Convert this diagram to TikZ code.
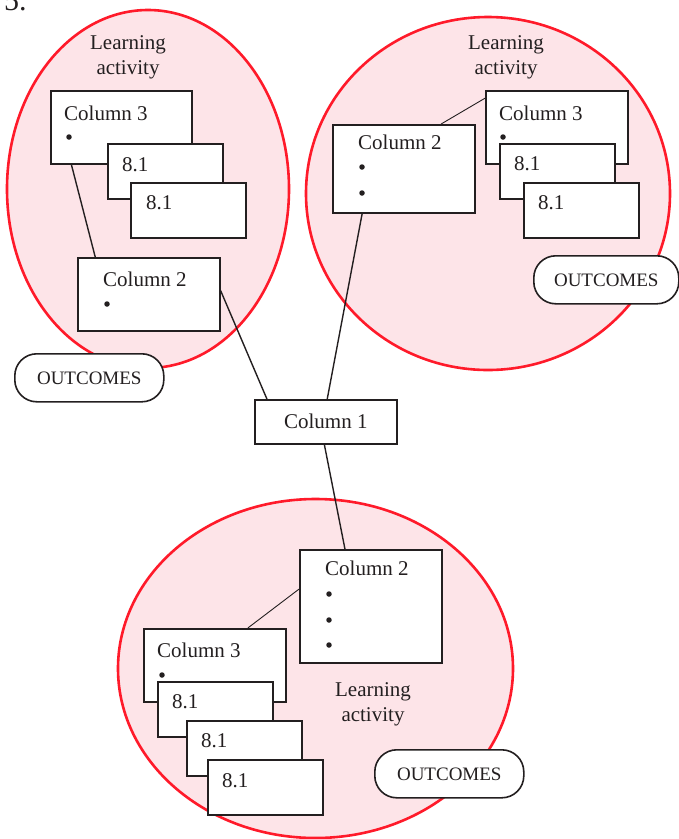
\documentclass[tikz,border=0pt]{standalone}
\usepackage{fontspec}
\setmainfont{Liberation Serif}
\usetikzlibrary{calc}
\definecolor{pinkfill}{HTML}{FDE4E8}
\definecolor{ringred}{HTML}{FF1A2A}
\definecolor{ink}{HTML}{231F20}
\begin{document}
\begin{tikzpicture}[x=1pt,y=-1pt,
  ring/.style={draw=ringred, line width=2.6pt, fill=pinkfill},
  cbox/.style={draw=ink, line width=1.6pt, fill=white, rectangle, anchor=north west, inner sep=0pt, minimum width=142pt, minimum height=73pt, font=\fontsize{21}{25}\selectfont, text=ink},
  nbox/.style={cbox, minimum width=115pt, minimum height=55pt},
  obox/.style={draw=ink, line width=1.6pt, fill=white, rounded corners=22pt, anchor=north west, minimum width=149pt, minimum height=48pt, inner sep=0pt, font=\fontsize{19}{22}\selectfont, text=ink},
  lbl/.style={anchor=base west, inner sep=0pt, font=\fontsize{21}{25}\selectfont, text=ink},
  ltxt/.style={anchor=base, inner sep=0pt, font=\fontsize{21}{25}\selectfont, text=ink},
  dotb/.style={fill=ink, circle, inner sep=0pt, minimum size=5.5pt},
  conn/.style={draw=ink, line width=1.4pt},
  thinconn/.style={draw=ink, line width=0.9pt}]
\useasboundingbox (0,0) rectangle (679,839);
% heading
\node[anchor=base west, inner sep=0pt, font=\fontsize{30}{32}\selectfont, text=ink] (num) at (4,10) {5.};
% ellipses
\draw[ring] (148,189) ellipse [x radius=141pt, y radius=179pt];
\draw[ring] (488,193.5) ellipse [x radius=182pt, y radius=176.5pt];
\draw[ring] (315.5,668.5) ellipse [x radius=197.5pt, y radius=169.5pt];
% ellipse labels
\node[ltxt] (la1) at (128,49) {Learning};
\node[ltxt] (la2) at (128,74) {activity};
\node[ltxt] (lb1) at (506,49) {Learning};
\node[ltxt] (lb2) at (506,74) {activity};
\node[ltxt] (lc1) at (373,696) {Learning};
\node[ltxt] (lc2) at (373,721) {activity};
% ---------- left cluster
\node[cbox, minimum width=141pt] (c3L) at (50,90) {};
\node[lbl] (c3Lt) at ($(c3L.north west)+(14,30)$) {Column 3};
\node[dotb] (c3Ld) at ($(c3L.north west)+(19,47)$) {};
\node[nbox] (n1L) at (107,143) {};
\node[lbl] (n1Lt) at ($(n1L.north west)+(15,28)$) {8.1};
\node[nbox] (n2L) at (130,182) {};
\node[lbl] (n2Lt) at ($(n2L.north west)+(16,27)$) {8.1};
\node[cbox] (c2L) at (77,257) {};
\node[lbl] (c2Lt) at ($(c2L.north west)+(26,29)$) {Column 2};
\node[dotb] (c2Ld) at ($(c2L.north west)+(30,47)$) {};
\node[obox] (oL) at (14,353) {OUTCOMES};
% ---------- right cluster
\node[cbox] (c3R) at (485,90) {};
\node[lbl] (c3Rt) at ($(c3R.north west)+(14,30)$) {Column 3};
\node[dotb] (c3Rd) at ($(c3R.north west)+(18,47)$) {};
\node[nbox] (n1R) at (499,143) {};
\node[lbl] (n1Rt) at ($(n1R.north west)+(15,27)$) {8.1};
\node[nbox] (n2R) at (523,182) {};
\node[lbl] (n2Rt) at ($(n2R.north west)+(15,27)$) {8.1};
\node[cbox, minimum height=88pt] (c2R) at (332,124) {};
\node[lbl] (c2Rt) at ($(c2R.north west)+(26,25)$) {Column 2};
\node[dotb] (c2Rd1) at ($(c2R.north west)+(30,43)$) {};
\node[dotb] (c2Rd2) at ($(c2R.north west)+(30,69)$) {};
\node[obox, minimum width=145pt] (oR) at (533,255) {OUTCOMES};
% ---------- centre
\node[cbox, minimum height=44pt] (col1) at (254,399) {Column 1};
% ---------- bottom cluster
\node[cbox, minimum height=113pt] (c2B) at (299,549) {};
\node[lbl] (c2Bt) at ($(c2B.north west)+(26,26)$) {Column 2};
\node[dotb] (c2Bd1) at ($(c2B.north west)+(30,45)$) {};
\node[dotb] (c2Bd2) at ($(c2B.north west)+(30,71)$) {};
\node[dotb] (c2Bd3) at ($(c2B.north west)+(30,96)$) {};
\node[cbox] (c3B) at (143,628) {};
\node[lbl] (c3Bt) at ($(c3B.north west)+(14,29)$) {Column 3};
\node[dotb] (c3Bd) at ($(c3B.north west)+(19,47)$) {};
\node[nbox] (n1B) at (157,681) {};
\node[lbl] (n1Bt) at ($(n1B.north west)+(15,27)$) {8.1};
\node[nbox] (n2B) at (186,720) {};
\node[lbl] (n2Bt) at ($(n2B.north west)+(15,27)$) {8.1};
\node[nbox] (n3B) at (207,759) {};
\node[lbl] (n3Bt) at ($(n3B.north west)+(15,28)$) {8.1};
\node[obox] (oB) at (374,749) {OUTCOMES};
% ---------- connectors
\draw[conn] ($(c3L.south west)!0.15!(c3L.south east)$) -- ($(c2L.north west)!0.127!(c2L.north east)$);
\draw[conn] ($(c2L.north east)!0.45!(c2L.south east)$) -- ($(col1.north west)!0.09!(col1.north east)$);
\draw[thinconn] ($(c2R.north west)!0.76!(c2R.north east)$) -- ($(c3R.north west)!0.11!(c3R.south west)$);
\draw[conn] ($(c2R.south west)!0.21!(c2R.south east)$) -- ($(col1.north west)!0.51!(col1.north east)$);
\draw[conn] ($(col1.south west)!0.49!(col1.south east)$) -- ($(c2B.north west)!0.32!(c2B.north east)$);
\draw[thinconn] ($(c2B.north west)!0.35!(c2B.south west)$) -- ($(c3B.north west)!0.73!(c3B.north east)$);
\end{tikzpicture}
\end{document}
